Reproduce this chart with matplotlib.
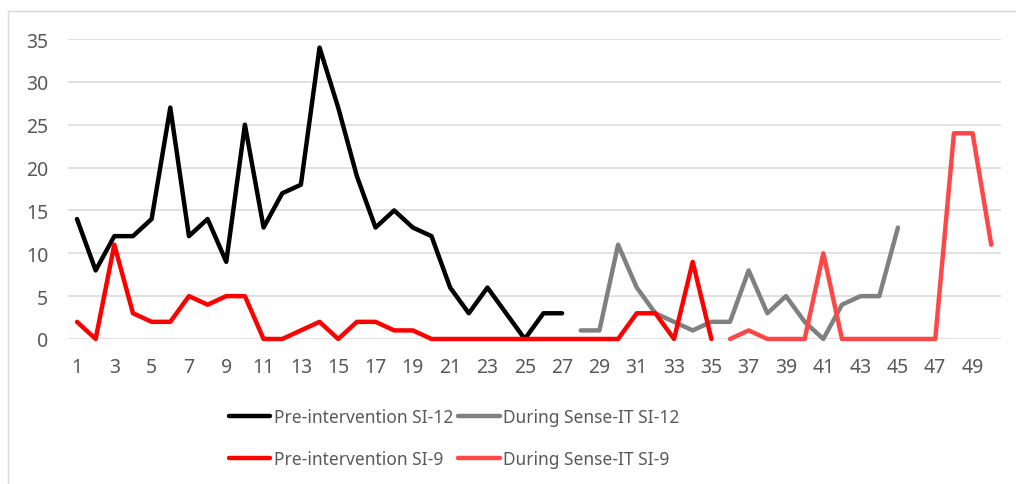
import numpy as np
import matplotlib
matplotlib.use('Agg')
from matplotlib import pyplot as plt
from matplotlib.lines import Line2D

# session numbers and counts
preSI12_x = list(range(1, 28))
preSI12 = [14, 8, 12, 12, 14, 27, 12, 14, 9, 25, 13, 17, 18, 34, 27, 19, 13, 15,
           13, 12, 6, 3, 6, 3, 0, 3, 3]
durSI12_x = list(range(28, 46))
durSI12 = [1, 1, 11, 6, 3, 2, 1, 2, 2, 8, 3, 5, 2, 0, 4, 5, 5, 13]
preSI9_x = list(range(1, 36))
preSI9 = [2, 0, 11, 3, 2, 2, 5, 4, 5, 5, 0, 0, 1, 2, 0, 2, 2, 1, 1, 0, 0, 0, 0,
          0, 0, 0, 0, 0, 0, 0, 3, 3, 0, 9, 0]
durSI9_x = list(range(36, 51))
durSI9 = [0, 1, 0, 0, 0, 10, 0, 0, 0, 0, 0, 0, 24, 24, 11]

xTicks = list(range(1, 50, 2))
yTicks = [0, 5, 10, 15, 20, 25, 30, 35]

plt.rcParams['font.family'] = ['Noto Sans', 'DejaVu Sans']
textColor = '#595959'

fig = plt.figure(figsize=(10.16, 4.85), dpi=100)
ax = fig.add_axes([0.0666, 0.299, 0.9182, 0.6185])

lw = 3.2
l1, = ax.plot(preSI12_x, preSI12, color='#000000', lw=lw, solid_capstyle='round')
l2, = ax.plot(durSI12_x, durSI12, color='#808080', lw=lw, solid_capstyle='round')
l3, = ax.plot(preSI9_x, preSI9, color='#FF0000', lw=lw, solid_capstyle='round')
l4, = ax.plot(durSI9_x, durSI9, color='#FF4747', lw=lw, solid_capstyle='round')

ax.set_xlim(0.5, 50.5)
ax.set_ylim(0, 35)
ax.set_xticks(xTicks)
ax.set_yticks(yTicks)
ax.tick_params(axis='both', length=0, labelsize=14, colors=textColor)
ax.tick_params(axis='x', pad=13)
ax.tick_params(axis='y', pad=14)
for s in ax.spines.values():
    s.set_visible(False)
ax.grid(axis='y', color='#D9D9D9', lw=1.1)
ax.set_axisbelow(True)
for l in (l1, l2, l3, l4):
    l.set_clip_on(False)

leg = fig.legend([l1, l3, l2, l4],
                 ['Pre-intervention SI-12', 'Pre-intervention SI-9',
                  'During Sense-IT SI-12', 'During Sense-IT SI-9'],
                 ncol=2, loc='center', bbox_to_anchor=(0.447, 0.095),
                 frameon=False, fontsize=12.5, handlelength=2.4,
                 handletextpad=0.2, columnspacing=0.3, labelspacing=1.35)
for t in leg.get_texts():
    t.set_color(textColor)

# chart border
fig.add_artist(Line2D([8 / 1016, 1.0], [1 - 12 / 485] * 2, color='#D9D9D9', lw=1))
fig.add_artist(Line2D([8 / 1016] * 2, [0, 1 - 12 / 485], color='#D9D9D9', lw=1))

plt.savefig('out.png', dpi=100)
